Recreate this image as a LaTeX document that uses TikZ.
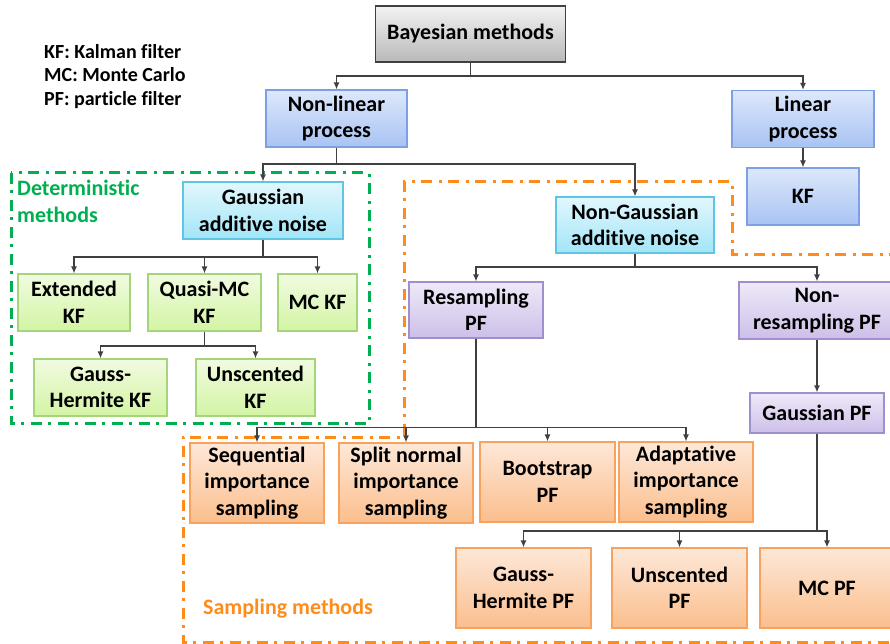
\documentclass[tikz,border=0pt]{standalone}
\usepackage{fontspec}
\setmainfont{Carlito}[Ligatures={NoCommon,NoContextual,NoRequired},Contextuals=NoAlternate]
\usetikzlibrary{arrows.meta}
\definecolor{linegray}{HTML}{404040}
\definecolor{detgreen}{HTML}{00B050}
\definecolor{samporange}{HTML}{FF8C1A}
\definecolor{graytop}{HTML}{F2F2F2}
\definecolor{graybot}{HTML}{B9B9B9}
\definecolor{bluetop}{HTML}{DDE8FB}
\definecolor{bluebot}{HTML}{A8C3F3}
\definecolor{blueline}{HTML}{7DA0E4}
\definecolor{cyantop}{HTML}{E2F7FD}
\definecolor{cyanbot}{HTML}{A2E5F7}
\definecolor{cyanline}{HTML}{5EC6E4}
\definecolor{greentop}{HTML}{F1FBE0}
\definecolor{greenbot}{HTML}{D3F4A4}
\definecolor{greenline}{HTML}{A5D57B}
\definecolor{purptop}{HTML}{EFE9F8}
\definecolor{purpbot}{HTML}{CDBFE9}
\definecolor{purpline}{HTML}{A08FCF}
\definecolor{orantop}{HTML}{FDE8D8}
\definecolor{oranbot}{HTML}{FBBE8D}
\definecolor{oranline}{HTML}{F8A25E}
\tikzset{
  box/.style={draw, line width=1.2pt, align=center, inner sep=0pt,
    font=\fontsize{22}{26.5}\selectfont\bfseries},
  graybox/.style={box, draw=linegray, top color=graytop, bottom color=graybot},
  bluebox/.style={box, draw=blueline, top color=bluetop, bottom color=bluebot},
  cyanbox/.style={box, draw=cyanline, top color=cyantop, bottom color=cyanbot},
  greenbox/.style={box, draw=greenline, top color=greentop, bottom color=greenbot},
  purplebox/.style={box, draw=purpline, top color=purptop, bottom color=purpbot},
  orangebox/.style={box, draw=oranline, top color=orantop, bottom color=oranbot},
  region/.style={line width=3pt, dash pattern=on 11pt off 6pt on 3pt off 7pt},
  link/.style={->, draw=linegray, line width=1.2pt}
}
\begin{document}
\begin{tikzpicture}[x=1pt,y=-1pt,>={Latex[length=7pt,width=6pt]}]
    \useasboundingbox (0,0) rectangle (890,644);
    % legend
    \node[anchor=north west, align=left, inner sep=0pt,
      font=\fontsize{20}{23.5}\selectfont\bfseries] (legend) at (44,44)
      {KF: Kalman filter\\MC: Monte Carlo\\PF: particle filter};
    % regions
    \draw[region, detgreen] (11,173) rectangle (369,423);
    \draw[region, samporange] (900,254) -- (732,254) -- (732,182) -- (404,182)
      -- (404,437) -- (183,437) -- (183,642) -- (900,642);
    \node[anchor=north west, align=left, inner sep=0pt, text=detgreen,
      font=\fontsize{22}{26.5}\selectfont\bfseries] (detlabel) at (17,180)
      {Deterministic\\methods};
    \node[anchor=base west, inner sep=0pt, text=samporange,
      font=\fontsize{22}{26.5}\selectfont\bfseries] (samplabel) at (203,614)
      {Sampling methods};
    % tree
    \node[graybox, minimum width=190, minimum height=56] (bayes) at (470.5,34) {Bayesian methods};
    \node[bluebox, minimum width=141, minimum height=57] (nonlin) at (336.5,118.5) {Non-linear\\process};
    \node[bluebox, minimum width=142, minimum height=57] (lin) at (803,119) {Linear\\process};
    \node[bluebox, minimum width=112, minimum height=57] (kf) at (803,196.5) {KF};
    \node[cyanbox, minimum width=160, minimum height=57] (gauss) at (263,210.5) {Gaussian\\additive noise};
    \node[cyanbox, minimum width=158, minimum height=56] (nongauss) at (635,225) {Non-Gaussian\\additive noise};
    \node[greenbox, minimum width=112, minimum height=57] (ekf) at (74,302.5) {Extended\\KF};
    \node[greenbox, minimum width=113, minimum height=57] (qmckf) at (204.5,302.5) {Quasi-MC\\KF};
    \node[greenbox, minimum width=79, minimum height=57] (mckf) at (317.5,302.5) {MC KF};
    \node[greenbox, minimum width=133, minimum height=57] (ghkf) at (100.5,387.5) {Gauss-\\Hermite KF};
    \node[greenbox, minimum width=119, minimum height=57] (ukf) at (255.5,387.5) {Unscented\\KF};
    \node[purplebox, minimum width=134, minimum height=56] (resamp) at (476,310) {Resampling\\PF};
    \node[purplebox, minimum width=156, minimum height=57] (nonresamp) at (817,310.5) {Non-\\resampling PF};
    \node[purplebox, minimum width=134, minimum height=40] (gpf) at (817,413) {Gaussian PF};
    \node[orangebox, minimum width=134, minimum height=80] (sis) at (257,483) {Sequential\\importance\\sampling};
    \node[orangebox, minimum width=134, minimum height=80] (snis) at (406,483) {Split normal\\importance\\sampling};
    \node[orangebox, minimum width=135, minimum height=80] (bpf) at (547.5,482) {Bootstrap\\PF};
    \node[orangebox, minimum width=134, minimum height=80] (ais) at (686,482) {Adaptative\\importance\\sampling};
    \node[orangebox, minimum width=135, minimum height=80] (ghpf) at (523.5,588) {Gauss-\\Hermite PF};
    \node[orangebox, minimum width=135, minimum height=80] (upf) at (679.5,588) {Unscented\\PF};
    \node[orangebox, minimum width=134, minimum height=80] (mcpf) at (827,588) {MC PF};
    % connectors: parent/child/level of the bus
    \foreach \a/\b/\y in {bayes/nonlin/76, bayes/lin/76, lin/kf/160,
        nonlin/gauss/164, nonlin/nongauss/164,
        gauss/ekf/257, gauss/qmckf/257, gauss/mckf/257,
        qmckf/ghkf/346, qmckf/ukf/346,
        nongauss/resamp/267, nongauss/nonresamp/267, nonresamp/gpf/370,
        resamp/sis/427.5, resamp/snis/427.5, resamp/bpf/427.5, resamp/ais/427.5,
        gpf/ghpf/531, gpf/upf/531, gpf/mcpf/531}
      \draw[link] (\a.south) |- (\b.north |- 0,\y) -- (\b.north);
\end{tikzpicture}
\end{document}
